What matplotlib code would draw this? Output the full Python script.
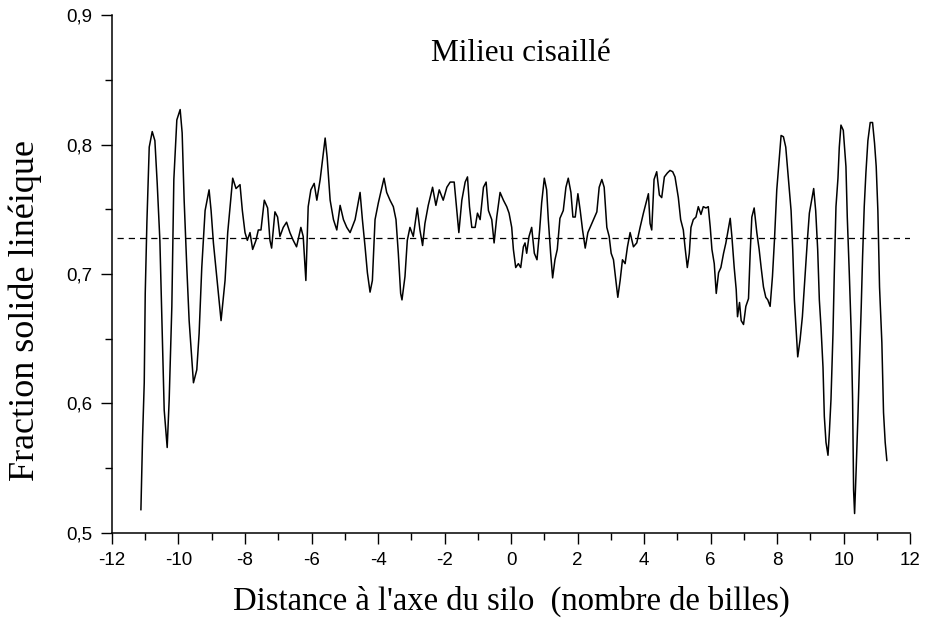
import matplotlib
matplotlib.use("Agg")
import matplotlib.pyplot as plt
from matplotlib.ticker import MultipleLocator, FuncFormatter

# profil de fraction solide
distance = [
    -11.13, -11.08, -11.03, -11.00, -10.95, -10.88, -10.79, -10.71, -10.64, -10.56,
    -10.49, -10.43, -10.34, -10.28, -10.20, -10.14, -10.05, -9.95, -9.89, -9.83,
    -9.75, -9.68, -9.55, -9.45, -9.38, -9.30, -9.20, -9.08, -9.02, -8.95,
    -8.85, -8.72, -8.60, -8.52, -8.45, -8.37, -8.27, -8.15, -8.08, -8.00,
    -7.93, -7.85, -7.77, -7.67, -7.60, -7.52, -7.42, -7.32, -7.25, -7.20,
    -7.10, -7.02, -6.95, -6.85, -6.75, -6.65, -6.55, -6.45, -6.32, -6.25,
    -6.17, -6.10, -6.02, -5.92, -5.84, -5.74, -5.66, -5.59, -5.53, -5.44,
    -5.34, -5.24, -5.14, -5.04, -4.94, -4.84, -4.69, -4.54, -4.47, -4.39,
    -4.32, -4.24, -4.17, -4.09, -3.99, -3.82, -3.74, -3.64, -3.54, -3.46,
    -3.39, -3.32, -3.28, -3.19, -3.12, -3.04, -2.94, -2.82, -2.74, -2.66,
    -2.59, -2.49, -2.36, -2.26, -2.16, -2.04, -1.93, -1.83, -1.71, -1.63,
    -1.57, -1.48, -1.38, -1.31, -1.25, -1.18, -1.08, -1.01, -0.93, -0.83,
    -0.75, -0.68, -0.58, -0.51, -0.43, -0.33, -0.23, -0.13, -0.06, 0.02,
    0.07, 0.14, 0.22, 0.29, 0.37, 0.42, 0.47, 0.54, 0.62, 0.70,
    0.78, 0.86, 0.92, 1.00, 1.07, 1.12, 1.19, 1.25, 1.32, 1.39,
    1.47, 1.57, 1.65, 1.72, 1.80, 1.86, 1.93, 2.01, 2.08, 2.15,
    2.23, 2.31, 2.41, 2.51, 2.58, 2.65, 2.73, 2.80, 2.88, 2.95,
    3.01, 3.08, 3.15, 3.21, 3.28, 3.35, 3.43, 3.50, 3.58, 3.68,
    3.78, 3.88, 3.98, 4.08, 4.13, 4.18, 4.23, 4.30, 4.38, 4.46,
    4.53, 4.61, 4.70, 4.78, 4.86, 4.93, 5.03, 5.10, 5.18, 5.23,
    5.30, 5.36, 5.41, 5.48, 5.56, 5.63, 5.71, 5.78, 5.86, 5.93,
    5.99, 6.04, 6.11, 6.17, 6.24, 6.31, 6.39, 6.46, 6.54, 6.59,
    6.64, 6.71, 6.77, 6.81, 6.87, 6.92, 6.99, 7.06, 7.14, 7.19,
    7.24, 7.31, 7.39, 7.46, 7.52, 7.59, 7.66, 7.72, 7.79, 7.86,
    7.92, 7.99, 8.06, 8.12, 8.19, 8.26, 8.34, 8.42, 8.47, 8.52,
    8.59, 8.62, 8.69, 8.76, 8.84, 8.91, 8.97, 9.04, 9.10, 9.16,
    9.22, 9.27, 9.32, 9.38, 9.42, 9.47, 9.53, 9.57, 9.62, 9.68,
    9.72, 9.77, 9.83, 9.87, 9.92, 9.99, 10.07, 10.11, 10.17, 10.23,
    10.27, 10.30, 10.33, 10.38, 10.43, 10.48, 10.53, 10.57, 10.62, 10.67,
    10.73, 10.80, 10.87, 10.93, 10.98, 11.03, 11.08, 11.15, 11.20, 11.25,
    11.30,
]
fraction = [
    0.518, 0.574, 0.616, 0.685, 0.740, 0.798, 0.810, 0.803, 0.770, 0.726,
    0.654, 0.595, 0.566, 0.603, 0.675, 0.773, 0.819, 0.827, 0.809, 0.757,
    0.705, 0.664, 0.616, 0.626, 0.654, 0.705, 0.749, 0.765, 0.749, 0.724,
    0.698, 0.664, 0.695, 0.732, 0.752, 0.774, 0.766, 0.769, 0.749, 0.732,
    0.726, 0.732, 0.719, 0.726, 0.734, 0.734, 0.757, 0.751, 0.726, 0.720,
    0.748, 0.744, 0.729, 0.736, 0.740, 0.732, 0.726, 0.721, 0.736, 0.729,
    0.695, 0.752, 0.765, 0.770, 0.757, 0.773, 0.790, 0.805, 0.790, 0.757,
    0.742, 0.734, 0.753, 0.742, 0.736, 0.732, 0.742, 0.763, 0.742, 0.721,
    0.701, 0.686, 0.695, 0.742, 0.755, 0.774, 0.763, 0.757, 0.752, 0.742,
    0.716, 0.685, 0.680, 0.698, 0.726, 0.736, 0.729, 0.751, 0.734, 0.722,
    0.739, 0.753, 0.767, 0.753, 0.765, 0.757, 0.767, 0.771, 0.771, 0.749,
    0.732, 0.757, 0.771, 0.775, 0.752, 0.736, 0.736, 0.747, 0.742, 0.767,
    0.771, 0.749, 0.742, 0.724, 0.744, 0.763, 0.757, 0.752, 0.747, 0.736,
    0.719, 0.705, 0.708, 0.705, 0.721, 0.724, 0.716, 0.729, 0.736, 0.716,
    0.711, 0.734, 0.755, 0.774, 0.765, 0.742, 0.716, 0.697, 0.711, 0.719,
    0.743, 0.749, 0.767, 0.774, 0.763, 0.744, 0.744, 0.762, 0.749, 0.734,
    0.720, 0.732, 0.738, 0.744, 0.748, 0.767, 0.773, 0.767, 0.736, 0.729,
    0.716, 0.711, 0.695, 0.682, 0.695, 0.711, 0.708, 0.721, 0.732, 0.721,
    0.724, 0.736, 0.747, 0.757, 0.762, 0.739, 0.734, 0.773, 0.779, 0.761,
    0.759, 0.775, 0.778, 0.780, 0.779, 0.775, 0.759, 0.742, 0.734, 0.721,
    0.705, 0.716, 0.736, 0.742, 0.744, 0.752, 0.746, 0.752, 0.751, 0.752,
    0.736, 0.719, 0.708, 0.685, 0.701, 0.705, 0.716, 0.724, 0.736, 0.743,
    0.729, 0.705, 0.688, 0.667, 0.678, 0.664, 0.661, 0.675, 0.681, 0.716,
    0.744, 0.751, 0.732, 0.719, 0.705, 0.690, 0.682, 0.680, 0.675, 0.698,
    0.726, 0.765, 0.788, 0.807, 0.806, 0.798, 0.773, 0.749, 0.719, 0.680,
    0.649, 0.636, 0.649, 0.667, 0.698, 0.726, 0.747, 0.757, 0.766, 0.749,
    0.719, 0.680, 0.659, 0.628, 0.590, 0.570, 0.560, 0.577, 0.603, 0.654,
    0.701, 0.752, 0.774, 0.798, 0.815, 0.811, 0.783, 0.744, 0.701, 0.654,
    0.603, 0.533, 0.515, 0.551, 0.590, 0.634, 0.675, 0.713, 0.752, 0.778,
    0.803, 0.817, 0.817, 0.801, 0.783, 0.749, 0.690, 0.647, 0.593, 0.570,
    0.556,
]
moyenne = 0.728

serif = ['Liberation Serif', 'DejaVu Serif']
narrow = ['Liberation Sans Narrow', 'Liberation Sans', 'DejaVu Sans']

fig = plt.figure(figsize=(9.27, 6.27), dpi=100)
ax = fig.add_axes([0.1208, 0.15, 0.861, 0.826])

ax.plot(distance, fraction, color='black', lw=1.1)
ax.axhline(moyenne, color='black', lw=0.9, dashes=(5, 4), xmin=0.006)

ax.set_xlim(-12, 12)
ax.set_ylim(0.5, 0.9)
ax.xaxis.set_major_locator(MultipleLocator(2))
ax.xaxis.set_minor_locator(MultipleLocator(1))
ax.yaxis.set_major_locator(MultipleLocator(0.1))
ax.yaxis.set_minor_locator(MultipleLocator(0.05))
ax.yaxis.set_major_formatter(FuncFormatter(lambda v, p: ('%.1f' % v).replace('.', ',')))
ax.xaxis.set_major_formatter(FuncFormatter(lambda v, p: '%d' % round(v)))

for s in ['top', 'right']:
    ax.spines[s].set_visible(False)
for s in ['left', 'bottom']:
    ax.spines[s].set_linewidth(1.1)
ax.tick_params(which='major', direction='out', length=8, width=1.0, pad=6)
ax.tick_params(which='minor', direction='out', length=5, width=1.0)
for lab in ax.get_xticklabels() + ax.get_yticklabels():
    lab.set_family(narrow)
    lab.set_fontsize(13.5)

ax.set_xlabel("Distance à l'axe du silo  (nombre de billes)", family=serif,
              fontsize=23.5, labelpad=12)
ax.set_ylabel("Fraction solide linéique", family=serif, fontsize=26)
ax.yaxis.set_label_coords(-0.088, 0.43)
ax.text(0.512, 0.925, "Milieu cisaillé", transform=ax.transAxes, ha='center',
        va='center', family=serif, fontsize=22.5)

fig.savefig("out.png", dpi=100)
